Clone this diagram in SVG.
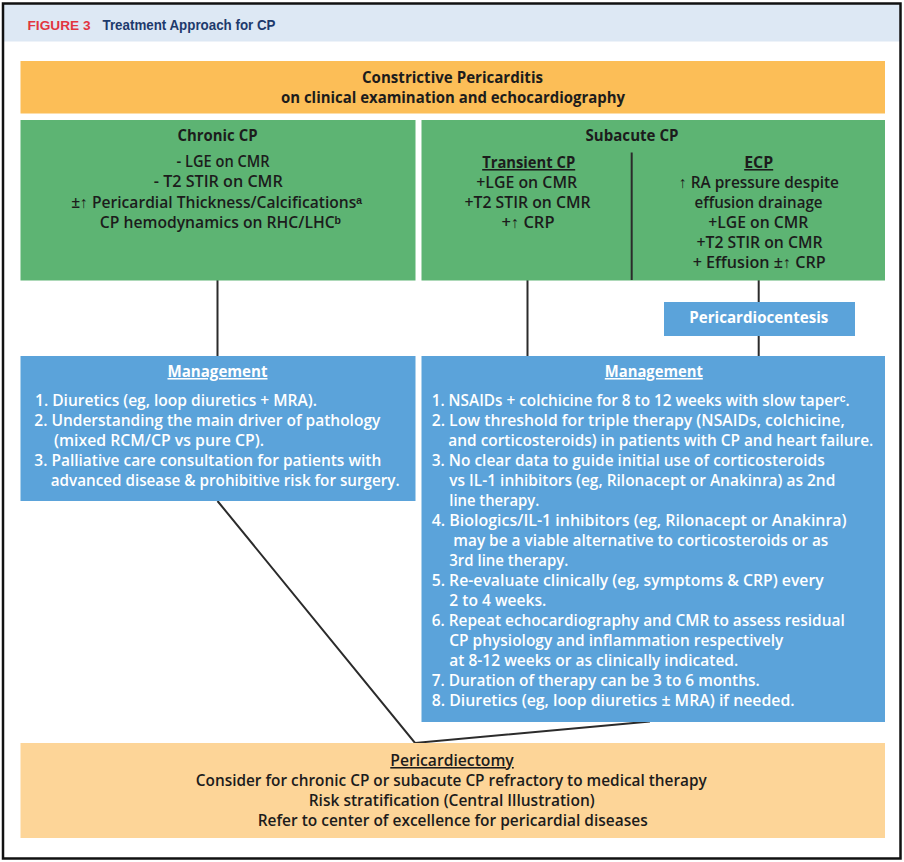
<svg xmlns="http://www.w3.org/2000/svg" width="904" height="862" viewBox="0 0 904 862">
<style>
  text { font-family: "Open Sans", "Liberation Sans", sans-serif; font-size: 15.5px; font-weight: 600; }
  .dk { fill: #1c1c1c; }
  .wh { fill: #ffffff; }
  .b { font-weight: 700; }
  .c { text-anchor: middle; }
  .u { text-decoration: underline; }
  .conn { stroke: #2b2b2b; stroke-width: 2; fill: none; }
</style>
<rect x="0" y="0" width="904" height="862" fill="#ffffff"/>
<rect x="3.5" y="4" width="896.5" height="37.5" fill="#dde8f4"/>
<rect x="3" y="3.5" width="897.5" height="855" fill="none" stroke="#111" stroke-width="2.5"/>
<g id="title">
  <text x="27.5" y="29.5" fill="#e2353f" style="font-family:'Liberation Sans',sans-serif;font-size:12.5px;font-weight:700" textLength="63" lengthAdjust="spacingAndGlyphs">FIGURE 3</text>
  <text x="102.5" y="29.5" fill="#1d3a6c" style="font-family:'Liberation Sans',sans-serif;font-size:14px;font-weight:700" textLength="173" lengthAdjust="spacingAndGlyphs">Treatment Approach for CP</text>
</g>
<g id="connectors">
  <line class="conn" x1="217.5" y1="280" x2="217.5" y2="356"/>
  <line class="conn" x1="527.5" y1="280" x2="527.5" y2="356"/>
  <line class="conn" x1="758.7" y1="280" x2="758.7" y2="302"/>
  <line class="conn" x1="758.7" y1="336" x2="758.7" y2="356"/>
  <polyline class="conn" points="217.5,501 415,743 650,721.5"/>
</g>
<g id="cp-top">
  <rect x="20.5" y="61" width="864.5" height="52.5" fill="#fcbe57"/>
  <text class="dk b c" x="452.5" y="82.5" textLength="181" lengthAdjust="spacingAndGlyphs">Constrictive Pericarditis</text>
  <text class="dk b c" x="453" y="103" textLength="344" lengthAdjust="spacingAndGlyphs">on clinical examination and echocardiography</text>
</g>
<g id="chronic-cp">
  <rect x="20.5" y="120" width="395" height="160.5" fill="#5db473"/>
  <text class="dk b c" x="217.5" y="141" textLength="80" lengthAdjust="spacingAndGlyphs">Chronic CP</text>
  <text class="dk c" x="223" y="166.5" textLength="93" lengthAdjust="spacingAndGlyphs">- LGE on CMR</text>
  <text class="dk c" x="218.3" y="187" textLength="129" lengthAdjust="spacingAndGlyphs">- T2 STIR on CMR</text>
  <text class="dk c" x="216.7" y="207.5" textLength="291" lengthAdjust="spacingAndGlyphs">±↑ Pericardial Thickness/Calcificationsᵃ</text>
  <text class="dk c" x="220.3" y="228" textLength="241" lengthAdjust="spacingAndGlyphs">CP hemodynamics on RHC/LHCᵇ</text>
</g>
<g id="subacute-cp">
  <rect x="421.5" y="120" width="463.5" height="160.5" fill="#5db473"/>
  <text class="dk b c" x="632" y="141" textLength="93" lengthAdjust="spacingAndGlyphs">Subacute CP</text>
  <line x1="631.7" y1="152.5" x2="631.7" y2="280" stroke="#2b2b2b" stroke-width="2"/>
  <text class="dk b c u" x="528.7" y="168" textLength="93" lengthAdjust="spacingAndGlyphs">Transient CP</text>
  <text class="dk c" x="526.7" y="188" textLength="101" lengthAdjust="spacingAndGlyphs">+LGE on CMR</text>
  <text class="dk c" x="527.5" y="208" textLength="126" lengthAdjust="spacingAndGlyphs">+T2 STIR on CMR</text>
  <text class="dk c" x="528" y="228" textLength="53" lengthAdjust="spacingAndGlyphs">+↑ CRP</text>
  <text class="dk b c u" x="758.7" y="168" textLength="29" lengthAdjust="spacingAndGlyphs">ECP</text>
  <text class="dk c" x="759" y="188" textLength="160" lengthAdjust="spacingAndGlyphs">↑ RA pressure despite</text>
  <text class="dk c" x="758.5" y="208" textLength="128" lengthAdjust="spacingAndGlyphs">effusion drainage</text>
  <text class="dk c" x="758.3" y="228" textLength="100" lengthAdjust="spacingAndGlyphs">+LGE on CMR</text>
  <text class="dk c" x="759.5" y="248" textLength="126" lengthAdjust="spacingAndGlyphs">+T2 STIR on CMR</text>
  <text class="dk c" x="759.2" y="268" textLength="133" lengthAdjust="spacingAndGlyphs">+ Effusion ±↑ CRP</text>
</g>
<g id="pericardiocentesis">
  <rect x="664" y="302" width="191" height="34" fill="#5ba3da"/>
  <text class="wh b c" x="758.8" y="322.5" textLength="139" lengthAdjust="spacingAndGlyphs">Pericardiocentesis</text>
</g>
<g id="management-chronic">
  <rect x="20.5" y="356" width="395" height="145" fill="#5ba3da"/>
  <text class="wh b c u" x="217.5" y="377" textLength="100" lengthAdjust="spacingAndGlyphs">Management</text>
  <text class="wh" x="35" y="405.5" textLength="282" lengthAdjust="spacingAndGlyphs">1. Diuretics (eg, loop diuretics + MRA).</text>
  <text class="wh" x="34.3" y="425.5" textLength="346" lengthAdjust="spacingAndGlyphs">2. Understanding the main driver of pathology</text>
  <text class="wh" x="54" y="445.5" textLength="210" lengthAdjust="spacingAndGlyphs">(mixed RCM/CP vs pure CP).</text>
  <text class="wh" x="34.3" y="465.5" textLength="347" lengthAdjust="spacingAndGlyphs">3. Palliative care consultation for patients with</text>
  <text class="wh" x="50.7" y="485.5" textLength="349" lengthAdjust="spacingAndGlyphs">advanced disease &amp; prohibitive risk for surgery.</text>
</g>
<g id="management-subacute">
  <rect x="421.5" y="356" width="463.5" height="366" fill="#5ba3da"/>
  <text class="wh b c u" x="653.8" y="377" textLength="98" lengthAdjust="spacingAndGlyphs">Management</text>
  <text class="wh" x="431.7" y="405.5" textLength="418" lengthAdjust="spacingAndGlyphs">1. NSAIDs + colchicine for 8 to 12 weeks with slow taperᶜ.</text>
  <text class="wh" x="431.7" y="425.5" textLength="413" lengthAdjust="spacingAndGlyphs">2. Low threshold for triple therapy (NSAIDs, colchicine,</text>
  <text class="wh" x="448.3" y="445.5" textLength="425" lengthAdjust="spacingAndGlyphs">and corticosteroids) in patients with CP and heart failure.</text>
  <text class="wh" x="431.7" y="465.5" textLength="393" lengthAdjust="spacingAndGlyphs">3. No clear data to guide initial use of corticosteroids</text>
  <text class="wh" x="449.3" y="485.5" textLength="386" lengthAdjust="spacingAndGlyphs">vs IL-1 inhibitors (eg, Rilonacept or Anakinra) as 2nd</text>
  <text class="wh" x="449.3" y="505.5" textLength="90" lengthAdjust="spacingAndGlyphs">line therapy.</text>
  <text class="wh" x="431.7" y="525.5" textLength="415" lengthAdjust="spacingAndGlyphs">4. Biologics/IL-1 inhibitors (eg, Rilonacept or Anakinra)</text>
  <text class="wh" x="453.3" y="545.5" textLength="375" lengthAdjust="spacingAndGlyphs">may be a viable alternative to corticosteroids or as</text>
  <text class="wh" x="449.3" y="565.5" textLength="119" lengthAdjust="spacingAndGlyphs">3rd line therapy.</text>
  <text class="wh" x="431.7" y="585.5" textLength="392" lengthAdjust="spacingAndGlyphs">5. Re-evaluate clinically (eg, symptoms &amp; CRP) every</text>
  <text class="wh" x="449.3" y="605.5" textLength="97" lengthAdjust="spacingAndGlyphs">2 to 4 weeks.</text>
  <text class="wh" x="431.7" y="625.5" textLength="413" lengthAdjust="spacingAndGlyphs">6. Repeat echocardiography and CMR to assess residual</text>
  <text class="wh" x="449.3" y="645.5" textLength="334" lengthAdjust="spacingAndGlyphs">CP physiology and inflammation respectively</text>
  <text class="wh" x="449.3" y="665.5" textLength="289" lengthAdjust="spacingAndGlyphs">at 8-12 weeks or as clinically indicated.</text>
  <text class="wh" x="431.7" y="685.5" textLength="328" lengthAdjust="spacingAndGlyphs">7. Duration of therapy can be 3 to 6 months.</text>
  <text class="wh" x="431.7" y="705.5" textLength="363" lengthAdjust="spacingAndGlyphs">8. Diuretics (eg, loop diuretics ± MRA) if needed.</text>
</g>
<g id="pericardiectomy">
  <rect x="20.5" y="743" width="864.5" height="95" fill="#fdd598"/>
  <text class="dk c u" x="452" y="766" textLength="123.5" lengthAdjust="spacingAndGlyphs">Pericardiectomy</text>
  <text class="dk c" x="451.3" y="786" textLength="511" lengthAdjust="spacingAndGlyphs">Consider for chronic CP or subacute CP refractory to medical therapy</text>
  <text class="dk c" x="451.7" y="806" textLength="286" lengthAdjust="spacingAndGlyphs">Risk stratification (Central Illustration)</text>
  <text class="dk c" x="452.7" y="826" textLength="390" lengthAdjust="spacingAndGlyphs">Refer to center of excellence for pericardial diseases</text>
</g>
</svg>
